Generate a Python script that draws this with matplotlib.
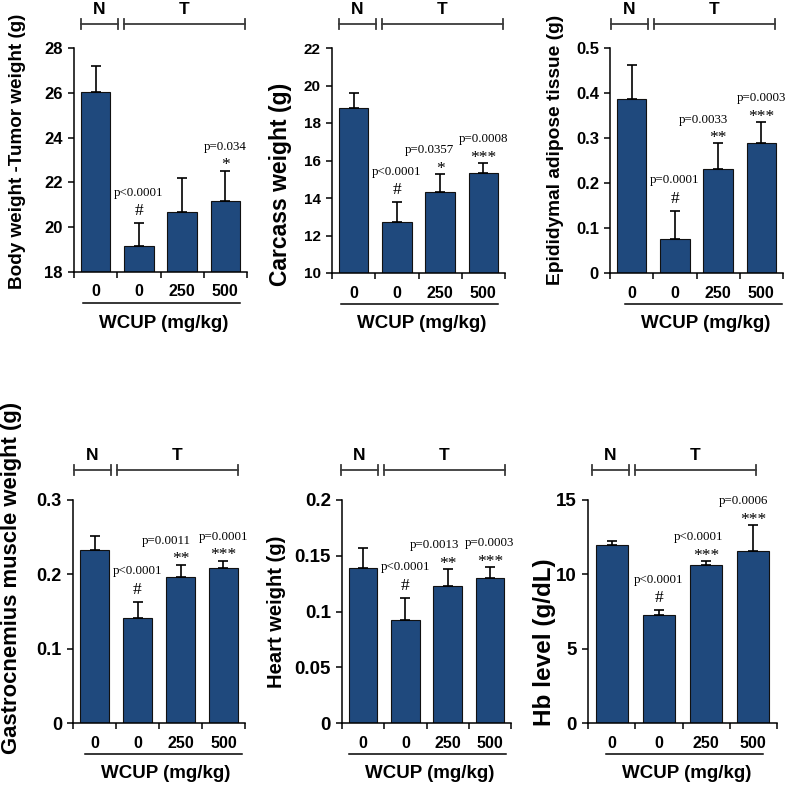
import matplotlib
matplotlib.use('Agg')
import matplotlib.pyplot as plt
from matplotlib.lines import Line2D
from matplotlib.ticker import FuncFormatter
import numpy as np

# dose groups (mg/kg WCUP)
doses = ['0', '0', '250', '500']

body_mean = [26.02, 19.16, 20.67, 21.16]
body_err = [1.19, 1.01, 1.52, 1.36]
body_sym = ['', '#', '', '*']
body_p = ['', 'p<0.0001', '', 'p=0.034']

carcass_mean = [18.82, 12.74, 14.32, 15.35]
carcass_err = [0.76, 1.03, 0.96, 0.50]
carcass_sym = ['', '#', '*', '***']
carcass_p = ['', 'p<0.0001', 'p=0.0357', 'p=0.0008']

adipose_mean = [0.386, 0.075, 0.232, 0.288]
adipose_err = [0.077, 0.063, 0.056, 0.047]
adipose_sym = ['', '#', '**', '***']
adipose_p = ['', 'p=0.0001', 'p=0.0033', 'p=0.0003']

gastro_mean = [0.233, 0.1415, 0.197, 0.2086]
gastro_err = [0.018, 0.021, 0.016, 0.010]
gastro_sym = ['', '#', '**', '***']
gastro_p = ['', 'p<0.0001', 'p=0.0011', 'p=0.0001']

heart_mean = [0.139, 0.0925, 0.123, 0.130]
heart_err = [0.018, 0.0195, 0.015, 0.010]
heart_sym = ['', '#', '**', '***']
heart_p = ['', 'p<0.0001', 'p=0.0013', 'p=0.0003']

hb_mean = [11.98, 7.25, 10.66, 11.57]
hb_err = [0.27, 0.32, 0.22, 1.73]
hb_sym = ['', '#', '***', '***']
hb_p = ['', 'p<0.0001', 'p<0.0001', 'p=0.0006']

ylabels = ['Body weight -Tumor weight (g)', 'Carcass weight (g)',
           'Epididymal adipose tissue (g)', 'Gastrocnemius muscle weight (g)',
           'Heart weight (g)', 'Hb level (g/dL)']
yticks = [[18, 20, 22, 24, 26, 28], [10, 12, 14, 16, 18, 20, 22],
          [0, 0.1, 0.2, 0.3, 0.4, 0.5], [0, 0.1, 0.2, 0.3],
          [0, 0.05, 0.1, 0.15, 0.2], [0, 5, 10, 15]]

means = [body_mean, carcass_mean, adipose_mean, gastro_mean, heart_mean, hb_mean]
errs = [body_err, carcass_err, adipose_err, gastro_err, heart_err, hb_err]
syms = [body_sym, carcass_sym, adipose_sym, gastro_sym, heart_sym, hb_sym]
pvals = [body_p, carcass_p, adipose_p, gastro_p, heart_p, hb_p]

# layout in pixels (left, top, right, bottom)
W, H = 787, 786
axes_px = [(74, 48, 247, 272), (332, 48, 505, 273), (610, 48, 783, 273),
           (73, 500, 245, 723), (342, 500, 511, 723), (588, 500, 777, 723)]
ylab_px = [(18, 151), (281, 184), (556, 150), (11, 578), (276, 612), (544, 642)]
ylab_size = [13.6, 16.5, 13.8, 15.8, 14.5, 17.5]
ytick_size = [12, 11, 12, 13, 13.5, 13.5]
n_start = [7, 7, 1, 1, -1, 4]
line_start = [9, 9, 15, 12, 7, 18]
# horizontal nudge (px) of the p-value text above bars 3 and 4
p_shift = [[0, 0], [-11, 0], [-15, 0], [-14, 0], [-13, 0], [-8, -10]]

bar_color = '#1F497D'
serif = ['Liberation Serif', 'DejaVu Serif']
sans = ['Liberation Sans', 'DejaVu Sans']
plt.rcParams['font.family'] = sans
plt.rcParams['font.weight'] = 'bold'


def fx(px):
    return px / W


def fy(py):
    return 1 - py / H


def hline(fig, x0, x1, y, **kw):
    fig.add_artist(Line2D([fx(x0), fx(x1)], [fy(y), fy(y)], transform=fig.transFigure, **kw))


def bracket(fig, x0, x1, y, label):
    kw = dict(color='#3a3a3a', lw=1.3)
    hline(fig, x0, x1, y, **kw)
    for x in (x0, x1):
        fig.add_artist(Line2D([fx(x), fx(x)], [fy(y - 5), fy(y + 5)],
                              transform=fig.transFigure, **kw))
    fig.text(fx((x0 + x1) / 2), fy(y - 14), label, ha='center', va='center',
             fontsize=12.5, fontweight='bold')


fig = plt.figure(figsize=(W / 100, H / 100), dpi=100)
x = np.arange(4) + 0.5

for i in range(6):
    l, t, r, b = axes_px[i]
    ax = fig.add_axes([fx(l), fy(b), (r - l) / W, (b - t) / H])
    m = np.array(means[i])
    e = np.array(errs[i])
    ax.bar(x, m, width=0.68, color=bar_color, edgecolor='#111111', linewidth=0.8, zorder=2)
    ax.errorbar(x, m, yerr=[np.zeros(4), e], fmt='none', ecolor='black',
                elinewidth=1.2, capsize=3.5, capthick=1.2, zorder=3)
    ax.set_xlim(0, 4)
    ax.set_ylim(yticks[i][0], yticks[i][-1])
    ax.set_yticks(yticks[i])
    ax.yaxis.set_major_formatter(FuncFormatter(lambda v, p: '{:g}'.format(round(v, 3))))
    ax.set_xticks([0, 1, 2, 3, 4])
    ax.set_xticklabels([])
    ax.set_xticks(x, minor=True)
    ax.set_xticklabels(doses, minor=True, fontsize=11.5, fontweight='bold')
    ax.tick_params(axis='x', which='major', direction='out', length=4, width=1.1)
    ax.tick_params(axis='x', which='minor', length=0, pad=9)
    ax.tick_params(axis='y', direction='out', length=4, width=1.1, pad=4,
                   labelsize=ytick_size[i])
    for lab in ax.get_yticklabels():
        lab.set_fontweight('bold')
    for s in ['top', 'right']:
        ax.spines[s].set_visible(False)
    for s in ['left', 'bottom']:
        ax.spines[s].set_linewidth(1.1)

    ax.set_ylabel(ylabels[i], fontsize=ylab_size[i], fontweight='bold')
    cx, cy = ylab_px[i]
    ax.yaxis.label.set_verticalalignment('center')
    ax.yaxis.label.set_rotation_mode('anchor')
    ax.yaxis.set_label_coords((cx - l) / (r - l), (b - cy) / (b - t))

    for j in range(4):
        top = m[j] + e[j]
        if syms[i][j]:
            off = 6 if syms[i][j] == '#' else 1
            ax.annotate(syms[i][j], (x[j], top), xytext=(0, off), textcoords='offset points',
                        ha='center', va='baseline', fontsize=12.5, family=serif,
                        fontweight='normal')
            if pvals[i][j]:
                dx = p_shift[i][j - 2] * 0.72 if j >= 2 else 0
                ax.annotate(pvals[i][j], (x[j], top), xytext=(dx, off + 14),
                            textcoords='offset points', ha='center', va='baseline',
                            fontsize=9.3, family=serif, fontweight='normal')

    # N / T group brackets above the panel
    by = t - 24 if t < 100 else t - 30
    n0 = l + n_start[i]
    bracket(fig, n0, n0 + 37, by, 'N')
    bracket(fig, n0 + 43, n0 + 43 + 121, by, 'T')

    # WCUP dose line and label below
    x0 = l + line_start[i]
    hline(fig, x0, x0 + 157, b + 31, color='black', lw=1.1)
    fig.text(fx(x0 + 81), fy(b + 51), 'WCUP (mg/kg)', ha='center', va='center',
             fontsize=13.5, fontweight='bold')

fig.savefig('out.png', dpi=100)
